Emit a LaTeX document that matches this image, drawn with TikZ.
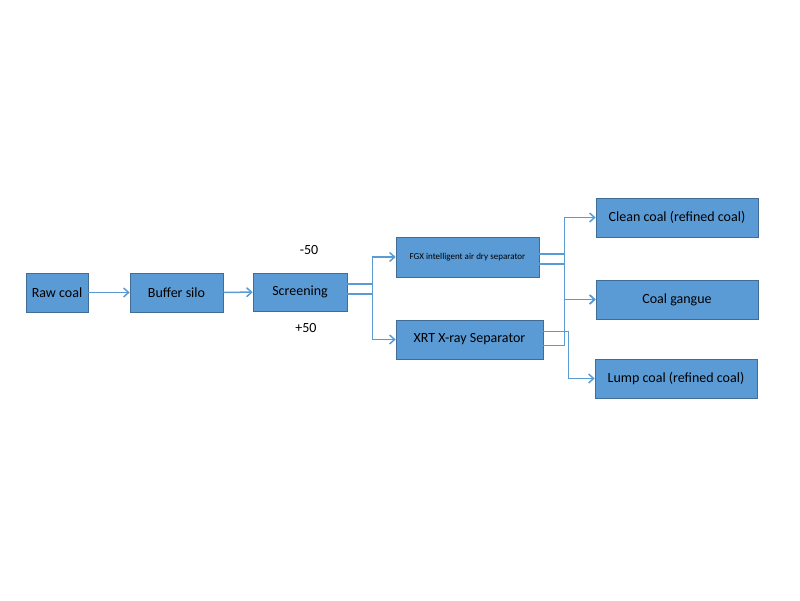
\documentclass[tikz,border=0pt]{standalone}
\usepackage{fontspec}
\setmainfont{Carlito}
\usetikzlibrary{arrows.meta}
\begin{document}
\begin{tikzpicture}[x=1pt,y=-1pt,
  box/.style={draw=boxedge, fill=boxblue, line width=0.6pt, inner sep=0pt, font=\fontsize{14}{16}\selectfont},
  arr/.style={draw=boxblue, line width=1.5pt, ->, >={Straight Barb[length=5pt,width=9pt]}}]
\definecolor{boxblue}{HTML}{5B9BD5}
\colorlet{boxedge}{boxblue!70!black}
\useasboundingbox (0,0) rectangle (800,600);

\node[box, minimum width=62, minimum height=39] (raw) at (57,292.5) {Raw coal};
\node[box, minimum width=93, minimum height=39] (buf) at (176.5,292.5) {Buffer silo};
\node[box, minimum width=94, minimum height=38] (scr) at (300,292) {Screening};
\node[box, minimum width=143, minimum height=40, font=\fontsize{9}{11}\selectfont] (fgx) at (467.5,257) {FGX intelligent air dry separator};
\node[box, minimum width=147, minimum height=39] (xrt) at (469.5,339.5) {XRT X-ray Separator};
\node[box, minimum width=162, minimum height=39] (clean) at (677,217.5) {Clean coal (refined coal)};
\node[box, minimum width=162, minimum height=39] (gangue) at (677,299.5) {Coal gangue};
\node[box, minimum width=162, minimum height=39] (lump) at (676,378.5) {Lump coal (refined coal)};

\node[font=\fontsize{14}{16}\selectfont] (minus) at (309,250) {-50};
\node[font=\fontsize{14}{16}\selectfont] (plus) at (306,328) {+50};

\draw[arr] (raw) -- (buf);
\draw[arr] (buf) -- (scr);
\draw[arr] ([yshift=-2]scr.east) -- ++(25,0) |- (fgx.west);
\draw[arr] ([yshift=8]scr.east) -- ++(25,0) |- (xrt.west);
\draw[arr] ([yshift=-7]fgx.east) -- ++(25,0) |- (clean.west);
\draw[arr] ([yshift=3]fgx.east) -- ++(25,0) |- (gangue.west);
\draw[arr] ([yshift=-6]xrt.east) -- ++(21,0) |- (gangue.west);
\draw[arr] ([yshift=8]xrt.east) -- ++(25,0) |- (lump.west);
\end{tikzpicture}
\end{document}
